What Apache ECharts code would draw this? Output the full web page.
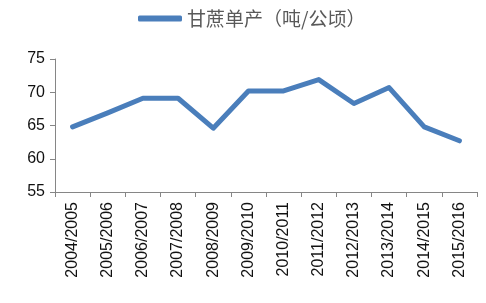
<!DOCTYPE html>
<html><head><meta charset="utf-8">
<script src="https://cdn.jsdelivr.net/npm/echarts@6/dist/echarts.min.js"></script>
<style>html,body{margin:0;padding:0;background:#fff}#c{width:486px;height:303px}</style>
</head><body><div id="c"></div>
<script>
var categories = ['2004/2005','2005/2006','2006/2007','2007/2008','2008/2009','2009/2010','2010/2011','2011/2012','2012/2013','2013/2014','2014/2015','2015/2016'];
var yieldValues = [64.8, 66.9, 69.1, 69.1, 64.6, 70.2, 70.2, 71.9, 68.3, 70.7, 64.8, 62.7];
var seriesName = '甘蔗单产（吨/公顷）';
var yTicks = [55, 60, 65, 70, 75];

var chart = echarts.init(document.getElementById('c'));
chart.setOption({
  animation: false,
  legend: {
    top: 4, left: 133,
    itemWidth: 44, itemHeight: 6, itemGap: 5,
    icon: 'roundRect',
    textStyle: {fontFamily: '"Noto Sans CJK SC"', fontSize: 19, color: '#595959'},
    data: [seriesName]
  },
  grid: {left: 55, right: 9, top: 59, bottom: 111},
  xAxis: {
    type: 'category', data: categories, boundaryGap: true,
    axisLine: {lineStyle: {color: '#868686', width: 1}},
    axisTick: {show: true, alignWithLabel: false, length: 5, lineStyle: {color: '#868686'}},
    axisLabel: {rotate: 90, interval: 0, fontFamily: 'Liberation Sans', fontSize: 16, color: '#111', margin: 10}
  },
  yAxis: {
    type: 'value', min: yTicks[0], max: yTicks[yTicks.length-1], interval: 5,
    axisLine: {show: true, lineStyle: {color: '#868686', width: 1}},
    axisTick: {show: true, length: 5, lineStyle: {color: '#868686'}},
    splitLine: {show: false},
    axisLabel: {fontFamily: 'Liberation Sans', fontSize: 16, color: '#111', margin: 10}
  },
  series: [{
    name: seriesName, type: 'line', data: yieldValues,
    symbol: 'none',
    lineStyle: {color: '#4A7EBB', width: 5, cap: 'round', join: 'round'},
    itemStyle: {color: '#4A7EBB'}
  }]
});
</script></body></html>
